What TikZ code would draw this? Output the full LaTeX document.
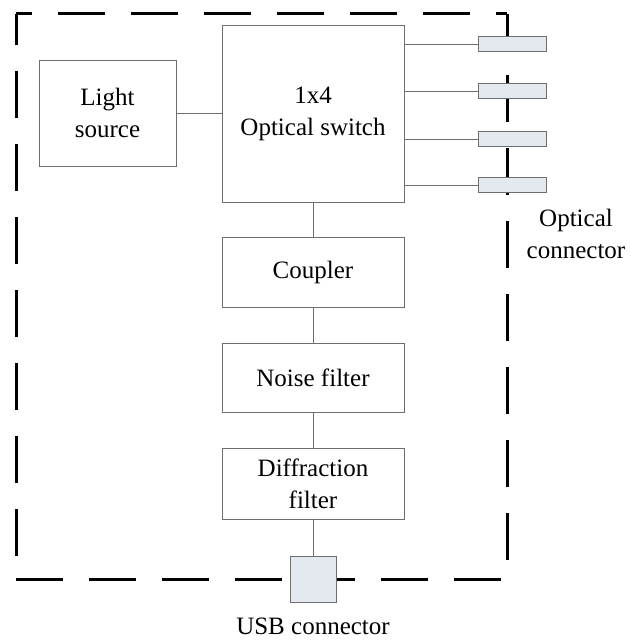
\documentclass[tikz,border=0pt]{standalone}
\usepackage{fontspec}
\setmainfont{Liberation Serif}
\definecolor{boxgray}{HTML}{6E6E6E}
\definecolor{connfill}{HTML}{E4E8EF}
\begin{document}
\begin{tikzpicture}[x=1pt,y=-1pt,
  txt/.style={font=\fontsize{25}{32}\selectfont, align=center},
  box/.style={draw=boxgray, line width=0.9pt, fill=white, inner sep=0pt, txt},
  conn/.style={draw=boxgray, line width=0.9pt, fill=connfill, inner sep=0pt},
  wire/.style={draw=boxgray, line width=0.9pt},
  bound/.style={line width=3pt, black}
]
\useasboundingbox (0,0) rectangle (630,642);
\fill[white] (0,0) rectangle (630,642);
% dashed enclosure
\draw[bound, dash pattern=on 47pt off 26pt, dash phase=31pt] (16,14) -- (507,14);
\draw[bound, dash pattern=on 47pt off 26pt, dash phase=16pt] (16,14) -- (16,579);
\draw[bound, dash pattern=on 47pt off 26pt, dash phase=0pt] (16,579) -- (507,579);
\draw[bound, dash pattern=on 47pt off 26pt, dash phase=12pt] (507,14) -- (507,579);
% boxes
\node[box, minimum width=137pt, minimum height=106pt] (light) at (107.5,113) {Light\\source};
\node[box, minimum width=182pt, minimum height=177pt] (sw) at (313,113.5) {1x4\\Optical switch};
\node[box, minimum width=182pt, minimum height=70pt] (coup) at (313,272) {Coupler};
\node[box, minimum width=182pt, minimum height=69pt] (noise) at (313,377.5) {Noise filter};
\node[box, minimum width=182pt, minimum height=71pt] (diff) at (313,483.5) {Diffraction\\filter};
\node[conn, minimum width=46pt, minimum height=46pt] (usb) at (313,579) {};
% optical connectors
\node[conn, minimum width=68pt, minimum height=14.5pt] (c1) at (512,44) {};
\node[conn, minimum width=68pt, minimum height=14.5pt] (c2) at (512,91) {};
\node[conn, minimum width=68pt, minimum height=14.5pt] (c3) at (512,139) {};
\node[conn, minimum width=68pt, minimum height=14.5pt] (c4) at (512,185) {};
% wires
\draw[wire] (light.east) -- (light.east -| sw.west);
\foreach \c in {c1,c2,c3,c4} \draw[wire] (sw.east |- \c.west) -- (\c.west);
\draw[wire] (sw.south) -- (coup.north);
\draw[wire] (coup.south) -- (noise.north);
\draw[wire] (noise.south) -- (diff.north);
\draw[wire] (diff.south) -- (usb.north);
% labels
\node[txt, inner sep=0pt] (optlab) at (576,234) {Optical\\connector};
\node[txt, inner sep=0pt] (usblab) at (313,626) {USB connector};
\end{tikzpicture}
\end{document}
